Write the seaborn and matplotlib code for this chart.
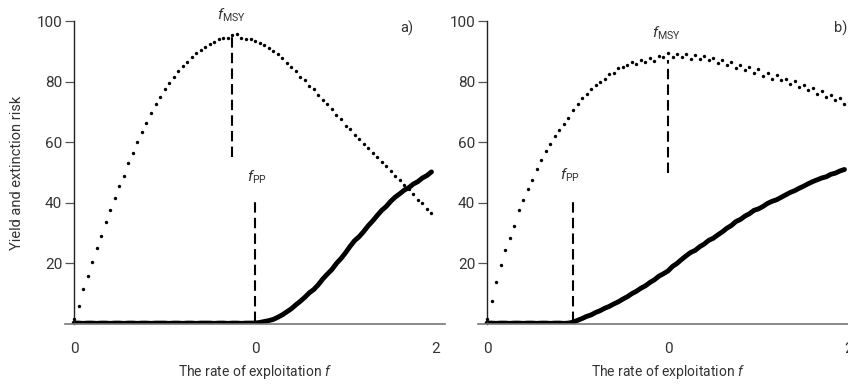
import numpy as np
import pandas as pd
import seaborn as sns
import matplotlib.pyplot as plt

# yield curves (dotted), sampled every 0.025 in f
yield_a = [1.5, 6, 11.5, 16, 20.5, 25, 29, 33.5, 37.5, 41.5,
           45.5, 49, 53, 56.5, 60, 63.5, 66.5, 69.5, 72.5, 75,
           77.5, 79.5, 81.5, 83.5, 85, 86.5, 88, 89.5, 90.5, 91.5,
           92.5, 93, 94, 94.5, 94.5, 95.5, 95.8, 94.5, 94.2, 94,
           93.5, 92.8, 92, 91, 90, 89, 87.8, 86, 84.8, 83.5,
           81.5, 80.5, 78.5, 77.5, 75.5, 74, 72.5, 71, 69, 67.5,
           65.5, 64.5, 62.5, 61, 59.5, 58, 56.5, 55, 53.5, 52,
           50.5, 49, 47.5, 46, 44.5, 43, 41, 40, 38, 36.5]
yield_b = [1.5, 7.5, 14, 19.5, 24.5, 28.5, 32.5, 37.5, 41, 44.5,
           47.5, 51, 54, 57, 59.5, 62, 64, 66, 68, 70.5,
           72.5, 74.5, 76, 77.5, 79, 80, 81, 82.5, 83, 84.5,
           84.8, 85.5, 86.5, 85.8, 87, 86.5, 87.8, 86.8, 88.5, 88,
           89.5, 88.2, 89.2, 88, 89, 87.6, 88.8, 87.5, 88.5, 87,
           87.8, 86.2, 87.2, 85.5, 86.5, 84.5, 85.5, 83.8, 84.8, 82.8,
           84, 82, 83, 81, 82.2, 80.5, 81, 79.2, 80.2, 78.2,
           79, 77.2, 78, 76, 76.8, 74.8, 75.6, 73.8, 74.5, 72.5, 73.2]

# extinction risk curves (thick line)
risk_a = [0.3, 0.3, 0.2, 0.3, 0.3, 0.2, 0.3, 0.3, 0.2, 0.3,
          0.3, 0.2, 0.3, 0.3, 0.2, 0.3, 0.3, 0.2, 0.3, 0.3,
          0.3, 0.2, 0.3, 0.3, 0.2, 0.3, 0.3, 0.2, 0.3, 0.3,
          0.3, 0.2, 0.3, 0.3, 0.2, 0.3, 0.3, 0.2, 0.3, 0.3,
          0.3, 0.5, 0.8, 1.1, 1.5, 2.2, 3.0, 4.0, 5.0, 6.3,
          7.5, 8.8, 10.3, 11.4, 13.0, 14.9, 16.5, 18.0, 20.0, 21.6,
          23.5, 25.6, 27.5, 28.8, 30.5, 32.4, 34.0, 35.8, 37.5, 38.8,
          40.5, 41.9, 43.0, 44.2, 45.0, 46.2, 47.0, 48.2, 49.0, 50.2]
risk_b = [0.3, 0.3, 0.2, 0.3, 0.3, 0.2, 0.3, 0.3, 0.2, 0.3,
          0.3, 0.2, 0.3, 0.3, 0.2, 0.3, 0.3, 0.2, 0.3, 0.6,
          1.2, 1.8, 2.5, 3.0, 3.8, 4.4, 5.2, 5.8, 6.6, 7.3,
          8.2, 9.0, 10.0, 10.8, 11.8, 12.6, 13.7, 14.6, 15.8, 16.6,
          17.5, 19.0, 20.0, 21.3, 22.5, 23.6, 24.3, 25.5, 26.4, 27.6,
          28.3, 29.4, 30.4, 31.6, 32.5, 33.8, 34.5, 35.6, 36.4, 37.5,
          38.0, 38.8, 39.8, 40.5, 41.0, 41.8, 42.6, 43.4, 44.0, 44.8,
          45.5, 46.3, 47.0, 47.6, 48.2, 48.6, 49.4, 49.8, 50.5, 51.0]

f_msy = [0.87, 1.0]
f_pp = [1.0, 0.475]
msy_span = [(55, 95.5), (50, 87)]
pp_span = [(0.5, 42), (0.5, 42)]
tick_labels = ["0", "0", "2"]
panel_tags = ["a)", "b)"]
tag_x = [1.84, 1.955]

sns.set_style("white")
plt.rcParams['font.family'] = ['Roboto', 'DejaVu Sans']
plt.rcParams['mathtext.fontset'] = 'custom'
plt.rcParams['mathtext.rm'] = 'Roboto'
plt.rcParams['mathtext.it'] = 'Roboto:italic'

txt = '#333333'
fig = plt.figure(figsize=(8.48, 3.87), dpi=100)
axes = [fig.add_axes([0.0767, 0.1628, 0.4481, 0.7829]),
        fig.add_axes([0.5637, 0.1628, 0.4481, 0.7829])]

curves = [(yield_a, risk_a), (yield_b, risk_b)]
for i, ax in enumerate(axes):
    y_vals, r_vals = curves[i]
    dy = pd.DataFrame({'f': np.linspace(0, 0.025 * (len(y_vals) - 1), len(y_vals)), 'v': y_vals})
    dr = pd.DataFrame({'f': np.linspace(0, 0.025 * (len(r_vals) - 1), len(r_vals)), 'v': r_vals})
    sns.lineplot(data=dr, x='f', y='v', ax=ax, color='black', linewidth=3.5,
                 solid_capstyle='round', solid_joinstyle='round')
    sns.scatterplot(data=dy, x='f', y='v', ax=ax, color='black', s=6,
                    linewidth=0, zorder=3)

    ax.plot([f_msy[i]] * 2, msy_span[i], color='black', lw=1.5, dashes=(5, 2.5))
    ax.plot([f_pp[i]] * 2, pp_span[i], color='black', lw=1.5, dashes=(5, 2.5))

    ax.set_xlim(-0.05, 2.05)
    ax.set_ylim(0, 100)
    ax.set_xticks([0, 1, 2])
    ax.set_xticklabels(tick_labels)
    ax.set_yticks([20, 40, 60, 80, 100])
    ax.tick_params(axis='x', length=0, pad=13, labelsize=11, labelcolor=txt)
    ax.tick_params(axis='y', length=6.5, width=0.9, color='#555555', pad=2,
                   labelsize=11, labelcolor=txt, left=True)
    ax.spines['right'].set_visible(False)
    ax.spines['top'].set_visible(False)
    ax.spines['left'].set_position(('data', 0))
    ax.spines['left'].set_color('#222222')
    ax.spines['left'].set_linewidth(1.0)
    ax.spines['bottom'].set_color('#777777')
    ax.spines['bottom'].set_linewidth(1.2)
    ax.set_xlabel('The rate of exploitation $f$', fontsize=10, color=txt, labelpad=5)
    ax.set_ylabel('')

    ax.text(tag_x[i], 97.7, panel_tags[i], fontsize=10.5, color=txt,
            ha='center', va='center')

axes[0].set_ylabel('Yield and extinction risk', fontsize=10.5, color=txt, labelpad=9)

axes[0].text(0.87, 102, r'$f_{\mathrm{MSY}}$', fontsize=11, color=txt, ha='center', va='center')
axes[0].text(1.01, 48.5, r'$f_{\mathrm{PP}}$', fontsize=11, color=txt, ha='center', va='center')
axes[1].text(0.99, 96, r'$f_{\mathrm{MSY}}$', fontsize=11, color=txt, ha='center', va='center')
axes[1].text(0.46, 49, r'$f_{\mathrm{PP}}$', fontsize=11, color=txt, ha='center', va='center')

fig.savefig('out.png', dpi=100)
